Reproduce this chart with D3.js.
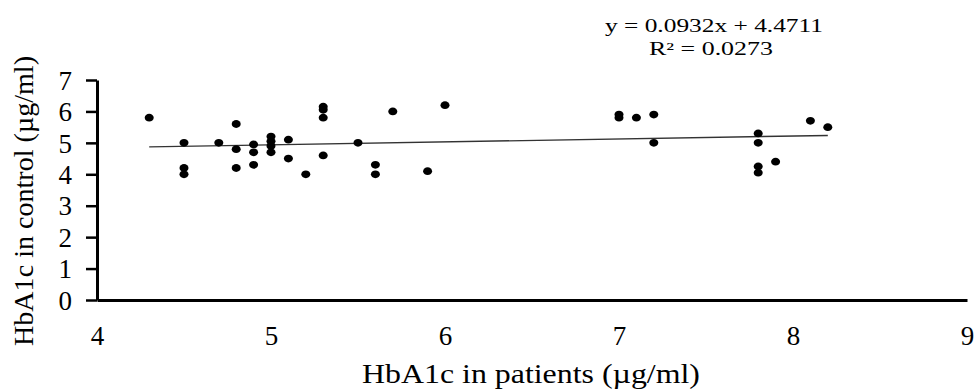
<!DOCTYPE html>
<html>
<head>
<meta charset="utf-8">
<script src="https://cdn.jsdelivr.net/npm/d3@7"></script>
<style>
  body { margin: 0; background: #fff; }
  svg text { font-family: "Times New Roman", "Liberation Serif", Times, serif; fill: #000; }
</style>
</head>
<body>
<div id="chart"></div>
<script>
// HbA1c pairs
const patients = [4.3, 4.5, 4.5, 4.5, 4.7, 4.8, 4.8, 4.8, 4.9, 4.9, 4.9,
  5.0, 5.0, 5.0, 5.0, 5.1, 5.1, 5.2, 5.3, 5.3, 5.3, 5.3, 5.5, 5.6, 5.6,
  5.7, 5.9, 6.0, 7.0, 7.0, 7.1, 7.2, 7.2, 7.8, 7.8, 7.8, 7.8, 7.9, 8.1, 8.2];
const controls = [5.8, 5.0, 4.2, 4.0, 5.0, 5.6, 4.8, 4.2, 4.95, 4.7, 4.3,
  5.2, 5.05, 4.9, 4.7, 5.1, 4.5, 4.0, 6.15, 6.05, 5.8, 4.6, 5.0, 4.3, 4.0,
  6.0, 4.1, 6.2, 5.9, 5.8, 5.8, 5.9, 5.0, 5.3, 5.0, 4.25, 4.05, 4.4, 5.7, 5.5];
const xTicks = [4, 5, 6, 7, 8, 9];
const yTicks = [0, 1, 2, 3, 4, 5, 6, 7];
const slope = 0.0932, intercept = 4.4711;
const eqLines = ['y = 0.0932x + 4.4711', 'R² = 0.0273'];

const width = 974, height = 390;
const margin = {top: 80, right: 7, bottom: 90, left: 97};

const x = d3.scaleLinear().domain([4, 9]).range([margin.left, width - margin.right]);
const y = d3.scaleLinear().domain([0, 7]).range([height - margin.bottom, margin.top]);

const svg = d3.select('#chart').append('svg')
  .attr('width', width)
  .attr('height', height);

// trend line
const x0 = d3.min(patients), x1 = d3.max(patients);
svg.append('line')
  .attr('x1', x(x0)).attr('y1', y(slope * x0 + intercept))
  .attr('x2', x(x1)).attr('y2', y(slope * x1 + intercept))
  .attr('stroke', '#333')
  .attr('stroke-width', 1.4);

// points
svg.selectAll('.dot')
  .data(patients.map((p, i) => [p, controls[i]]))
  .enter().append('ellipse')
  .attr('class', 'dot')
  .attr('cx', d => x(d[0]))
  .attr('cy', d => y(d[1]))
  .attr('rx', 4.5)
  .attr('ry', 3.9)
  .attr('fill', '#000');

const yAxis = svg.append('g')
  .attr('transform', 'translate(' + margin.left + ',0)')
  .call(d3.axisLeft(y).tickValues(yTicks).tickFormat(d3.format('d'))
    .tickSize(11).tickSizeOuter(0).tickPadding(14));
yAxis.selectAll('text').style('font-size', '27px').attr('dy', '0.34em');

const xAxis = svg.append('g')
  .attr('transform', 'translate(0,' + y(0) + ')')
  .call(d3.axisBottom(x).tickValues(xTicks).tickFormat(d3.format('d'))
    .tickSize(0).tickSizeOuter(0).tickPadding(26));
xAxis.selectAll('text').style('font-size', '27px');

svg.selectAll('.domain, .tick line')
  .attr('stroke', '#000')
  .attr('stroke-width', 3);
svg.selectAll('.tick line').attr('stroke-width', 2.5);
svg.selectAll('.tick text').attr('fill', '#000');

// axis titles
svg.append('text')
  .attr('x', 531).attr('y', 383)
  .attr('text-anchor', 'middle')
  .attr('textLength', 338)
  .attr('lengthAdjust', 'spacingAndGlyphs')
  .style('font-size', '27px')
  .text('HbA1c in patients (µg/ml)');

svg.append('text')
  .attr('transform', 'translate(33,201) rotate(-90)')
  .attr('text-anchor', 'middle')
  .attr('textLength', 290)
  .attr('lengthAdjust', 'spacingAndGlyphs')
  .style('font-size', '27px')
  .text('HbA1c in control (µg/ml)');

// regression label
svg.append('text')
  .attr('x', 714).attr('y', 32)
  .attr('text-anchor', 'middle')
  .attr('textLength', 218)
  .attr('lengthAdjust', 'spacingAndGlyphs')
  .style('font-size', '18px')
  .text(eqLines[0]);

svg.append('text')
  .attr('x', 711).attr('y', 55)
  .attr('text-anchor', 'middle')
  .attr('textLength', 124)
  .attr('lengthAdjust', 'spacingAndGlyphs')
  .style('font-size', '18px')
  .text(eqLines[1]);
</script>
</body>
</html>
